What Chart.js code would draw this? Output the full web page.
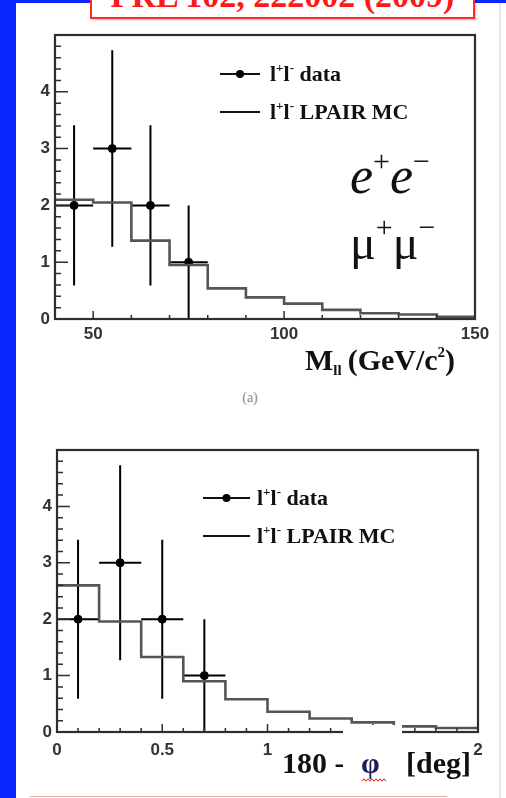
<!DOCTYPE html>
<html>
<head>
<meta charset="utf-8">
<script src="https://cdn.jsdelivr.net/npm/chart.js@4/dist/chart.umd.min.js"></script>
<style>
  html, body { margin: 0; padding: 0; background: #fff; }
  body { width: 506px; height: 798px; position: relative; overflow: hidden; }
  .abs { position: absolute; }
  canvas { position: absolute; left: 0; }
  #cite {
    position: absolute; left: 90px; top: -30px; width: 381px; height: 45px;
    border: 2px solid #ff2b2b; background: #fff;
    box-shadow: 1px 1px 2px rgba(0, 0, 0, 0.25);
  }
  #citeText {
    position: absolute; left: 90px; top: -21px; width: 385px; text-align: center;
    font: bold 34px "Liberation Serif", serif; line-height: 34px; color: #ff1a1a;
    white-space: nowrap;
  }
  #tag {
    position: absolute; left: 230px; top: 391px; width: 40px; text-align: center;
    font: 14px "Liberation Serif", serif; line-height: 14px; color: #888;
  }
</style>
</head>
<body>
<div class="abs" style="left:0;top:0;width:16px;height:798px;background:#0a26ff"></div>
<div class="abs" style="left:16px;top:0;width:490px;height:3px;background:#0a26ff"></div>
<div class="abs" style="left:499px;top:3px;width:2px;height:795px;background:#e2e7f3"></div>
<div class="abs" style="left:30px;top:796px;width:417px;height:1px;background:#f6a5a5"></div>
<div id="cite"></div>
<div id="citeText">PRL 102, 222002 (2009)</div>
<canvas id="massChart" width="506" height="390" style="top:0"></canvas>
<div id="tag">(a)</div>
<canvas id="dphiChart" width="506" height="398" style="top:400px"></canvas>

<script>
// dilepton invariant mass, 10 GeV bins
const massEdges = [40, 50, 60, 70, 80, 90, 100, 110, 120, 130, 140, 150];
const massMC = [2.1, 2.05, 1.38, 0.95, 0.54, 0.38, 0.27, 0.16, 0.1, 0.08, 0.04];
const massCenters = [45, 55, 65, 75];
const massCounts = [2, 3, 2, 1];
const massErr = [1.41, 1.73, 1.41, 1];
const massHalfBin = [5, 5, 5, 5];
const massTicks = [50, 100, 150];

// acoplanarity, 0.2 deg bins
const dphiEdges = [0, 0.2, 0.4, 0.6, 0.8, 1.0, 1.2, 1.4, 1.6, 1.8, 2.0];
const dphiMC = [2.6, 1.96, 1.33, 0.9, 0.58, 0.36, 0.24, 0.17, 0.1, 0.07];
const dphiCenters = [0.1, 0.3, 0.5, 0.7];
const dphiCounts = [2, 3, 2, 1];
const dphiErr = [1.41, 1.73, 1.41, 1];
const dphiHalfBin = [0.1, 0.1, 0.1, 0.1];
const dphiTicks = [0, 0.5, 1, 1.5, 2];

const countTicks = [0, 1, 2, 3, 4];

const SERIF = '"Liberation Serif", serif';
const tickFont = { family: '"Liberation Sans", Arial, sans-serif', size: 17, weight: 'bold' };

function histSteps(edges, vals) {
  return edges.map((e, i) => ({ x: e, y: vals[Math.min(i, vals.length - 1)] }));
}

// vertical + horizontal bars, broken apart with null points
function errorSegments(xs, ys, yErr, xErr) {
  const pts = [];
  xs.forEach((x, i) => {
    pts.push({ x, y: Math.max(0, ys[i] - yErr[i]) }, { x, y: ys[i] + yErr[i] }, { x, y: null });
    pts.push({ x: x - xErr[i], y: ys[i] }, { x: x + xErr[i], y: ys[i] }, { x, y: null });
  });
  return pts;
}

function drawRuns(ctx, x, y, runs, color) {
  ctx.fillStyle = color;
  ctx.textBaseline = 'alphabetic';
  ctx.textAlign = 'left';
  runs.forEach(r => {
    ctx.font = r.font;
    ctx.fillText(r.t, x, y + (r.dy || 0));
    x += ctx.measureText(r.t).width + (r.gap || 0);
  });
  return x;
}

function onGrid(v, step) {
  return Math.abs(v / step - Math.round(v / step)) < 1e-6;
}

// ROOT-like frame: box plus inward ticks on bottom and left axes
const histFrame = {
  id: 'histFrame',
  afterDraw(chart, args, o) {
    const { ctx, chartArea: a, scales: { x, y } } = chart;
    ctx.save();
    ctx.strokeStyle = '#2e2e2e';
    ctx.lineWidth = 1.5;
    ctx.beginPath();
    const nx = Math.round((x.max - x.min) / o.xMinor);
    for (let i = 0; i <= nx; i++) {
      const v = Math.ceil(x.min / o.xMinor - 1e-9) * o.xMinor + i * o.xMinor;
      if (v > x.max + 1e-9) break;
      const px = x.getPixelForValue(v);
      const len = onGrid(v, o.xMajor) ? 8 : 4;
      ctx.moveTo(px, a.bottom);
      ctx.lineTo(px, a.bottom - len);
    }
    const ny = Math.round((y.max - y.min) / o.yMinor);
    for (let i = 0; i <= ny; i++) {
      const v = y.min + i * o.yMinor;
      const py = y.getPixelForValue(v);
      const len = onGrid(v, o.yMajor) ? 13 : 6;
      ctx.moveTo(a.left, py);
      ctx.lineTo(a.left + len, py);
    }
    ctx.stroke();
    ctx.lineWidth = 2.2;
    ctx.strokeRect(a.left, a.top, a.right - a.left, a.bottom - a.top);
    ctx.restore();
  }
};

// legend entries and text drawn on the pad
const padText = {
  id: 'padText',
  afterDraw(chart, args, o) {
    const ctx = chart.ctx;
    ctx.save();
    const lg = o.legend;
    ctx.strokeStyle = '#111';
    ctx.lineWidth = 2;
    ctx.beginPath();
    ctx.moveTo(lg.x1, lg.y1); ctx.lineTo(lg.x2, lg.y1);
    ctx.moveTo(lg.x1, lg.y2); ctx.lineTo(lg.x2, lg.y2);
    ctx.stroke();
    ctx.fillStyle = '#000';
    ctx.beginPath();
    ctx.arc((lg.x1 + lg.x2) / 2, lg.y1, 4, 0, Math.PI * 2);
    ctx.fill();
    const lf = 'bold 22px ' + SERIF, sf = 'bold 13px ' + SERIF;
    const ll = [{ t: 'l', font: lf }, { t: '+', font: sf, dy: -9 }, { t: 'l', font: lf }, { t: '-', font: sf, dy: -9 }];
    drawRuns(ctx, lg.tx, lg.y1 + 7, ll.concat([{ t: ' data', font: lf }]), '#111');
    drawRuns(ctx, lg.tx, lg.y2 + 7, ll.concat([{ t: ' LPAIR MC', font: lf }]), '#111');
    (o.runs || []).forEach(r => drawRuns(ctx, r.x, r.y, r.parts, r.color || '#111'));
    if (o.after) o.after(ctx);
    ctx.restore();
  }
};

function buildPanel(canvas, cfg) {
  return new Chart(canvas, {
    type: 'line',
    data: {
      datasets: [
        {
          label: 'MC',
          data: histSteps(cfg.edges, cfg.mc),
          stepped: true,
          borderColor: '#555',
          borderWidth: 2.6,
          pointRadius: 0,
          fill: false
        },
        {
          label: 'errors',
          data: errorSegments(cfg.centers, cfg.counts, cfg.err, cfg.halfBin),
          borderColor: '#000',
          borderWidth: 2,
          pointRadius: 0,
          spanGaps: false,
          fill: false
        },
        {
          label: 'data',
          data: cfg.centers.map((x, i) => ({ x, y: cfg.counts[i] })),
          showLine: false,
          pointRadius: 4,
          pointBackgroundColor: '#000',
          pointBorderColor: '#000'
        }
      ]
    },
    plugins: [histFrame, padText],
    options: {
      responsive: false,
      animation: false,
      devicePixelRatio: 1,
      layout: { padding: cfg.padding },
      plugins: {
        legend: { display: false },
        tooltip: { enabled: false },
        histFrame: cfg.frame,
        padText: cfg.text
      },
      scales: {
        x: {
          type: 'linear',
          min: cfg.edges[0],
          max: cfg.edges[cfg.edges.length - 1],
          afterBuildTicks(s) { s.ticks = cfg.xTicks.map(v => ({ value: v })); },
          afterFit(s) { s.height = 30; },
          grid: { display: false, drawTicks: false },
          border: { display: false },
          ticks: {
            padding: cfg.xPad, color: '#333', font: tickFont,
            autoSkip: false, maxRotation: 0, callback: v => String(v)
          }
        },
        y: {
          type: 'linear',
          min: 0,
          max: 5,
          afterBuildTicks(s) { s.ticks = countTicks.map(v => ({ value: v })); },
          afterFit(s) { s.width = cfg.yWidth; },
          grid: { display: false, drawTicks: false },
          border: { display: false },
          ticks: { padding: 5, color: '#333', font: tickFont, callback: v => String(v) }
        }
      }
    }
  });
}

const big = 'bold 30px ' + SERIF, bigSub = 'bold 15px ' + SERIF;

buildPanel(document.getElementById('massChart'), {
  edges: massEdges, mc: massMC, centers: massCenters, counts: massCounts,
  err: massErr, halfBin: massHalfBin, xTicks: massTicks,
  padding: { left: 0, top: 35, right: 31, bottom: 41 },
  yWidth: 55, xPad: 5,
  frame: { xMinor: 10, xMajor: 50, yMinor: 0.2, yMajor: 1 },
  text: {
    legend: { x1: 220, x2: 260, y1: 74, y2: 112, tx: 270 },
    runs: [
      { x: 350, y: 193, parts: [
        { t: 'e', font: 'italic 52px ' + SERIF }, { t: '+', font: '30px ' + SERIF, dy: -22 },
        { t: 'e', font: 'italic 52px ' + SERIF }, { t: '\u2212', font: '30px ' + SERIF, dy: -22 }] },
      { x: 350, y: 259, parts: [
        { t: '\u03bc', font: '48px ' + SERIF }, { t: '+', font: '30px ' + SERIF, dy: -22 },
        { t: '\u03bc', font: '48px ' + SERIF }, { t: '\u2212', font: '30px ' + SERIF, dy: -22 }] },
      { x: 305, y: 370, parts: [
        { t: 'M', font: big }, { t: 'll', font: bigSub, dy: 5, gap: 6 },
        { t: '(GeV/c', font: big }, { t: '2', font: bigSub, dy: -13 }, { t: ')', font: big }] }
    ]
  }
});

buildPanel(document.getElementById('dphiChart'), {
  edges: dphiEdges, mc: dphiMC, centers: dphiCenters, counts: dphiCounts,
  err: dphiErr, halfBin: dphiHalfBin, xTicks: dphiTicks,
  padding: { left: 0, top: 50, right: 28, bottom: 36 },
  yWidth: 57, xPad: 8,
  frame: { xMinor: 0.1, xMajor: 0.5, yMinor: 0.2, yMajor: 1 },
  text: {
    legend: { x1: 203, x2: 250, y1: 98, y2: 136, tx: 257 },
    runs: [
      { x: 282, y: 373, parts: [{ t: '180 -', font: big }] },
      { x: 406, y: 373, parts: [{ t: '[deg]', font: big }] }
    ],
    after(ctx) {
      // text box of the angle symbol sits over the axis
      ctx.fillStyle = '#fff';
      ctx.fillRect(343, 325, 59, 66);
      drawRuns(ctx, 361, 373, [{ t: '\u03c6', font: 'bold 30px ' + SERIF }], '#1c1c5a');
      ctx.strokeStyle = '#e01818';
      ctx.lineWidth = 1;
      ctx.beginPath();
      for (let i = 0; i <= 12; i++) {
        const px = 362 + i * 2;
        const py = 380 + (i % 2 ? -1.2 : 1.2);
        if (i === 0) ctx.moveTo(px, py); else ctx.lineTo(px, py);
      }
      ctx.stroke();
    }
  }
});
</script>
</body>
</html>
